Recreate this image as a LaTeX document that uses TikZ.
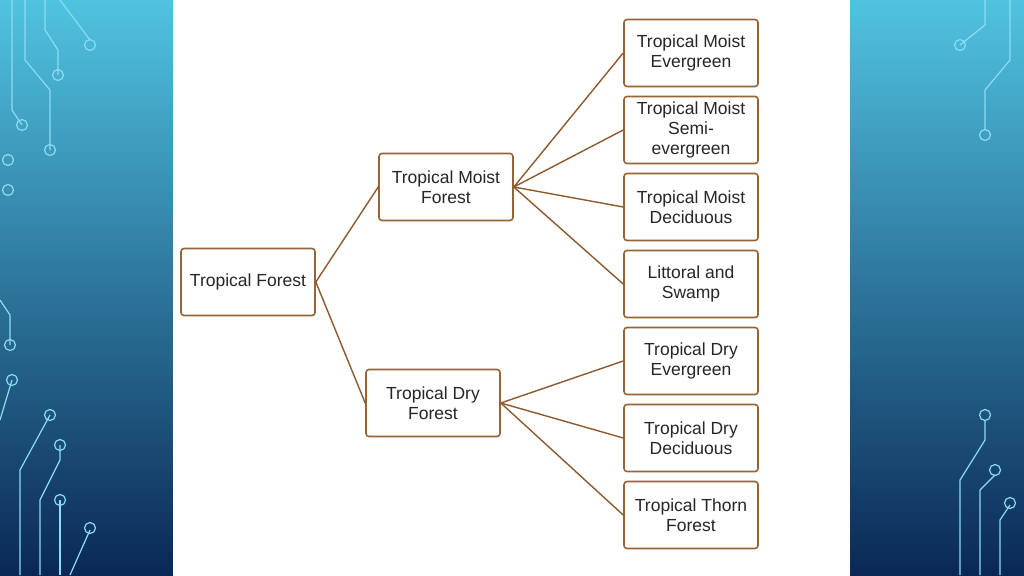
\documentclass[tikz,border=0pt]{standalone}
\usepackage{fontspec}
\setmainfont{Liberation Sans}
\usetikzlibrary{positioning}
\definecolor{boxline}{RGB}{150,100,55}
\definecolor{edgeline}{RGB}{140,90,45}
\definecolor{sidetop}{RGB}{80,195,225}
\definecolor{sidebot}{RGB}{10,40,85}
\definecolor{wire}{RGB}{140,220,245}
\begin{document}
\begin{tikzpicture}[x=1pt,y=-1pt,
    forest/.style={draw=boxline, line width=1.6pt, rounded corners=3pt, fill=white,
      minimum width=134pt, minimum height=67pt, inner sep=2pt, align=center,
      font=\fontsize{17.5}{20}\selectfont, text=black!85},
    branch/.style={draw=edgeline, line width=1.4pt},
    pad/.style={wire, line width=1.2pt}]

    % slide background
    \useasboundingbox (0,0) rectangle (1024,575);
    \shade[top color=sidetop, bottom color=sidebot] (0,0) rectangle (173,575);
    \shade[top color=sidetop, bottom color=sidebot] (850,0) rectangle (1024,575);
    \fill[white] (173,0) rectangle (850,575);

    % circuit wires on the sides
    \draw[pad] (12,0) -- (12,110) -- (22,125);
    \draw[pad] (25,0) -- (25,60) -- (50,90) -- (50,150);
    \draw[pad] (45,0) -- (45,30) -- (58,50) -- (58,75);
    \draw[pad] (60,0) -- (90,40);
    \draw[pad] (0,300) -- (10,315) -- (10,345);
    \draw[pad] (0,420) -- (12,380);
    \draw[pad] (20,575) -- (20,470) -- (50,415);
    \draw[pad] (40,575) -- (40,500) -- (60,460) -- (60,445);
    \draw[pad] (60,575) -- (60,500);
    \draw[pad] (70,575) -- (90,530);
    \draw[pad] (985,0) -- (985,25) -- (960,45);
    \draw[pad] (1010,0) -- (1010,60) -- (985,90) -- (985,130);
    \draw[pad] (960,575) -- (960,480) -- (985,440) -- (985,420);
    \draw[pad] (980,575) -- (980,490) -- (995,475);
    \draw[pad] (1000,575) -- (1000,520) -- (1010,505);
    \foreach \cx/\cy in {22/125,50/150,58/75,90/45,10/345,12/380,50/415,60/445,60/500,90/528,
                         960/45,985/135,985/415,995/470,1010/503,8/160,8/190}
      \draw[pad] (\cx,\cy) circle (5.5pt);

    % the tree
    \node[forest] (tf)  at (248,282) {Tropical Forest};
    \node[forest] (tmf) at (446,187) {Tropical Moist\\Forest};
    \node[forest] (tdf) at (433,403) {Tropical Dry\\Forest};
    \node[forest] (tme) at (691,53)  {Tropical Moist\\Evergreen};
    \node[forest] (tms) at (691,130) {Tropical Moist\\Semi-\\evergreen};
    \node[forest] (tmd) at (691,207) {Tropical Moist\\Deciduous};
    \node[forest] (lsw) at (691,284) {Littoral and\\Swamp};
    \node[forest] (tde) at (691,361) {Tropical Dry\\Evergreen};
    \node[forest] (tdd) at (691,438) {Tropical Dry\\Deciduous};
    \node[forest] (ttf) at (691,515) {Tropical Thorn\\Forest};

    \draw[branch] (tf.east) -- (tmf.west);
    \draw[branch] (tf.east) -- (tdf.west);
    \foreach \leaf in {tme,tms,tmd,lsw}
      \draw[branch] (tmf.east) -- (\leaf.west);
    \foreach \leaf in {tde,tdd,ttf}
      \draw[branch] (tdf.east) -- (\leaf.west);
\end{tikzpicture}
\end{document}
